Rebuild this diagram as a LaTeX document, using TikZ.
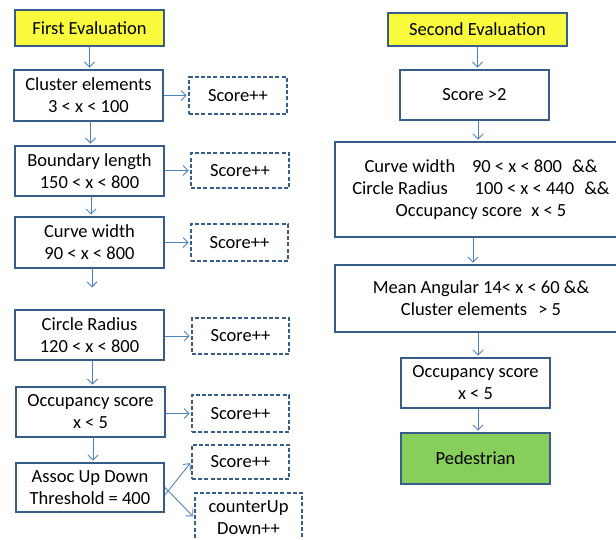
\documentclass[tikz,border=0pt]{standalone}
\usepackage{fontspec}
\setmainfont{Carlito}
\usetikzlibrary{arrows.meta,calc}
\definecolor{bordc}{RGB}{56,93,138}
\definecolor{arrc}{RGB}{79,129,189}
\definecolor{yelc}{RGB}{250,250,60}
\definecolor{grnc}{RGB}{136,206,90}
\tikzset{
  base/.style={draw=bordc, line width=1.8pt, align=center, inner sep=0pt,
    font=\fontsize{18.5}{22}\selectfont, text=black},
  box/.style={base, fill=white},
  ybox/.style={base, fill=yelc},
  gbox/.style={base, fill=grnc},
  sbox/.style={base, fill=white, dash pattern=on 4pt off 2.2pt, line width=1.6pt},
  arr/.style={draw=arrc, line width=0.9pt, -{Straight Barb[length=5pt,width=10pt,line width=0.9pt]}, shorten >=1.5pt}
}
\begin{document}
\begin{tikzpicture}[x=1pt,y=-1pt]
\useasboundingbox (0,0) rectangle (616,540);
% left column
\node[ybox, minimum width=149, minimum height=36] (fe) at (89.5,28) {First Evaluation};
\node[box, minimum width=149, minimum height=51] (ce) at (88.5,95.5) {Cluster elements\\3 < x < 100};
\node[box, minimum width=149, minimum height=50] (bl) at (89.5,171) {Boundary length\\150 < x < 800};
\node[box, minimum width=149, minimum height=51] (cw) at (89.5,242.5) {Curve width\\90 < x < 800};
\coordinate (cwend) at (92,289);
\node[box, minimum width=149, minimum height=50] (cr) at (89.5,335) {Circle Radius\\120 < x < 800};
\node[box, minimum width=149, minimum height=50] (os) at (90.5,412) {Occupancy score\\x < 5};
\node[box, minimum width=148, minimum height=49] (au) at (90,487.5) {Assoc Up Down\\Threshold = 400};
% score boxes
\node[sbox, minimum width=98, minimum height=37] (s1) at (238,95.5) {Score++};
\node[sbox, minimum width=98, minimum height=35] (s2) at (240,170.5) {Score++};
\node[sbox, minimum width=97, minimum height=37] (s3) at (239.5,242.5) {Score++};
\node[sbox, minimum width=97, minimum height=36] (s4) at (240.5,336) {Score++};
\node[sbox, minimum width=97, minimum height=37] (s5) at (240.5,413.5) {Score++};
\node[sbox, minimum width=97, minimum height=34] (s6) at (240.5,462) {Score++};
\node[sbox, minimum width=107, minimum height=49] (cu) at (248.5,517.5) {counterUp\\Down++};
% right column
\node[ybox, minimum width=179, minimum height=33] (se) at (477.5,29.5) {Second Evaluation};
\node[box, minimum width=149, minimum height=50] (sc) at (474.5,95) {Score >2};
\node[box, minimum width=292, minimum height=95] (b1) at (481,189.5)
  {Curve width\hspace{0.9em}90 < x < 800\hspace{0.55em}\&\&\\
   Circle Radius\hspace{1.45em}100 < x < 440\hspace{0.55em}\&\&\\
   Occupancy score\hspace{0.5em}x < 5};
\node[box, minimum width=292, minimum height=67] (b2) at (481,298.5)
  {Mean Angular 14< x < 60 \&\&\\Cluster elements\hspace{0.6em}> 5};
\node[box, minimum width=149, minimum height=50] (os2) at (475.5,383) {Occupancy score\\x < 5};
\node[gbox, minimum width=149, minimum height=51] (ped) at (475.5,458.5) {Pedestrian};
% vertical arrows left
\draw[arr] (fe.south) -- (fe.south |- ce.north);
\draw[arr] ([xshift=2pt]ce.south) -- ([xshift=2pt]ce.south |- bl.north);
\draw[arr] ([xshift=1.5pt]bl.south) -- ([xshift=1.5pt]bl.south |- cw.north);
\draw[arr] (cw.south -| cwend) -- (cwend);
\draw[arr] ([xshift=3pt]cr.south) -- ([xshift=3pt]cr.south |- os.north);
\draw[arr] ([xshift=2.5pt]os.south) -- ([xshift=2.5pt]os.south |- au.north);
% horizontal arrows
\draw[arr] (ce.east) -- (s1.west);
\draw[arr] (bl.east |- s2.west) -- (s2.west);
\draw[arr] (cw.east) -- (s3.west);
\draw[arr] (cr.east |- s4.west) -- (s4.west);
\draw[arr] (os.east |- s5.west) -- (s5.west);
\draw[arr] ([yshift=-7.5pt]au.east) -- (s6.west);
\draw[arr] (au.east) -- (cu.west);
% vertical arrows right
\draw[arr] (se.south) -- (se.south |- sc.north);
\draw[arr] ([xshift=3.5pt]sc.south) -- ([xshift=3.5pt]sc.south |- b1.north);
\draw[arr] ([xshift=-8pt]b1.south) -- ([xshift=-8pt]b1.south |- b2.north);
\draw[arr] ([xshift=-3pt]b2.south) -- ([xshift=-3pt]b2.south |- os2.north);
\draw[arr] ([xshift=2.5pt]os2.south) -- ([xshift=2.5pt]os2.south |- ped.north);
\end{tikzpicture}
\end{document}
